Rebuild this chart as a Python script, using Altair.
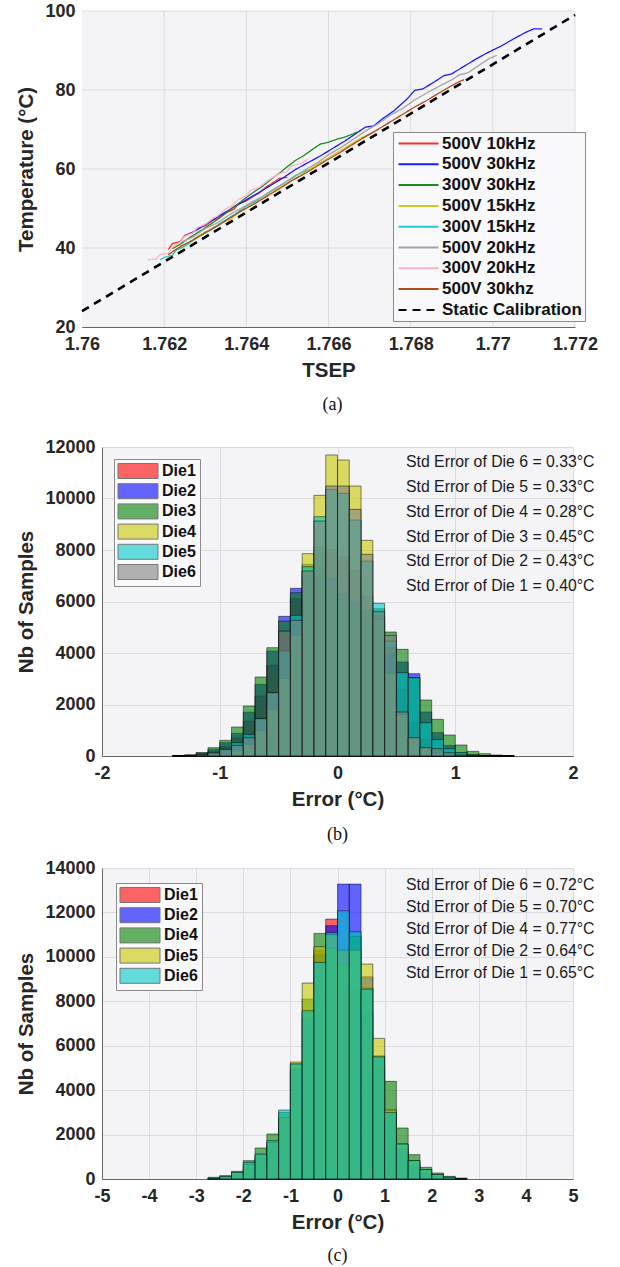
import altair as alt
import pandas as pd

FONT = "Liberation Sans"
SERIF = "Liberation Serif"
INK = "#262626"
BG = "#f4f4f7"
GRID = "#dcdce0"

# ---------------- panel (a): TSEP vs temperature ----------------
a_series = ["500V 10kHz", "500V 30kHz", "300V 30kHz", "500V 15kHz",
            "300V 15kHz", "500V 20kHz", "300V 20kHz", "500V 30khz",
            "Static Calibration"]
a_colors = ["#ff2a2a", "#1a1aff", "#1a8c1a", "#cccc22", "#22cccc",
            "#a3a3a3", "#ffb3c9", "#b04a1c", "#000000"]
a_dash = [[1, 0]] * 8 + [[8, 6]]
tsep_ticks = [1.760, 1.762, 1.764, 1.766, 1.768, 1.770, 1.772]
temp_ticks = [20, 40, 60, 80, 100]

red_tsep = [1.7621, 1.7622, 1.7624, 1.7625, 1.7627, 1.7628, 1.7630, 1.7632, 1.7633, 1.7635,
            1.7637, 1.7638, 1.7640, 1.7642, 1.7643, 1.7645, 1.7646, 1.7648, 1.7650]
red_temp = [39.6, 41.1, 41.7, 43.2, 43.9, 45.0, 45.6, 47.1, 47.5, 48.9,
            49.8, 51.1, 51.9, 53.3, 53.8, 55.6, 56.2, 57.6, 57.9]
blue_tsep = [1.7625, 1.7628, 1.7631, 1.7634, 1.7637, 1.7640, 1.7643, 1.7646, 1.7649, 1.7652,
             1.7655, 1.7658, 1.7661, 1.7664, 1.7667, 1.7669, 1.7671, 1.7673, 1.7676, 1.7679,
             1.7681, 1.7683, 1.7686, 1.7688, 1.7690, 1.7693, 1.7696, 1.7699, 1.7702, 1.7705,
             1.7708, 1.7710, 1.7712]
blue_temp = [43.0, 44.6, 46.6, 48.5, 50.4, 52.2, 54.0, 55.9, 57.8, 59.9,
             61.6, 63.3, 65.2, 67.1, 69.2, 70.6, 70.9, 72.6, 74.8, 77.6,
             79.9, 80.3, 82.2, 83.6, 84.1, 86.0, 87.9, 89.6, 91.1, 92.9,
             94.6, 95.5, 95.5]
green_tsep = [1.7622, 1.7624, 1.7626, 1.7628, 1.7630, 1.7632, 1.7634, 1.7636, 1.7638, 1.7640,
              1.7642, 1.7644, 1.7646, 1.7648, 1.7650, 1.7652, 1.7654, 1.7656, 1.7658, 1.7660,
              1.7662, 1.7664, 1.7666, 1.7667]
green_temp = [39.8, 41.0, 42.5, 43.8, 45.1, 46.5, 48.0, 49.6, 51.2, 52.8,
              54.3, 55.7, 57.4, 58.9, 60.6, 62.2, 63.4, 64.9, 66.3, 66.8,
              67.5, 68.1, 68.9, 69.4]
yellow_tsep = [1.7622, 1.7625, 1.7628, 1.7631, 1.7634, 1.7636, 1.7638, 1.7641, 1.7644, 1.7647,
               1.7650, 1.7653, 1.7656, 1.7659, 1.7662, 1.7665, 1.7668, 1.7670]
yellow_temp = [39.2, 40.6, 42.9, 44.6, 46.4, 47.1, 48.9, 50.8, 52.5, 54.6,
               56.4, 58.3, 60.4, 62.2, 64.1, 66.0, 67.9, 68.9]
cyan_tsep = [1.7619, 1.7620, 1.7622, 1.7623, 1.7625, 1.7628, 1.7631, 1.7634, 1.7637, 1.7640,
             1.7643, 1.7646, 1.7649, 1.7652, 1.7655]
cyan_temp = [37.0, 37.6, 38.2, 39.5, 40.4, 42.6, 44.3, 46.5, 48.4, 50.6,
             52.3, 54.5, 56.3, 58.4, 59.8]
gray_tsep = [1.7624, 1.7627, 1.7630, 1.7633, 1.7636, 1.7639, 1.7642, 1.7645, 1.7648, 1.7651,
             1.7654, 1.7657, 1.7660, 1.7663, 1.7666, 1.7669, 1.7672, 1.7675, 1.7678, 1.7681,
             1.7684, 1.7687, 1.7690, 1.7692, 1.7694, 1.7697, 1.7699, 1.7701]
gray_temp = [41.4, 42.8, 44.9, 46.4, 48.5, 50.2, 52.0, 53.6, 55.7, 57.5,
             59.6, 61.4, 63.6, 65.4, 67.5, 69.6, 71.4, 73.6, 75.3, 77.5,
             79.3, 81.0, 82.6, 83.9, 84.4, 86.5, 87.9, 88.8]
pink_tsep = [1.7616, 1.7618, 1.7619, 1.7621, 1.7622, 1.7624, 1.7625, 1.7627, 1.7628, 1.7630,
             1.7632, 1.7633, 1.7635, 1.7637, 1.7638, 1.7640, 1.7641, 1.7643, 1.7645, 1.7646,
             1.7648, 1.7650, 1.7651, 1.7653, 1.7655]
pink_temp = [37.0, 37.2, 38.3, 38.6, 40.2, 41.6, 43.0, 43.8, 45.1, 46.0,
             47.6, 48.1, 49.9, 51.0, 52.3, 53.2, 54.6, 55.3, 56.9, 57.6,
             58.8, 59.4, 60.8, 61.3, 62.4]
brown_tsep = [1.7621, 1.7624, 1.7627, 1.7630, 1.7633, 1.7636, 1.7639, 1.7642, 1.7645, 1.7648,
              1.7651, 1.7654, 1.7657, 1.7660, 1.7663, 1.7666, 1.7669, 1.7672, 1.7675, 1.7678,
              1.7681, 1.7684, 1.7687, 1.7690, 1.7692, 1.7693]
brown_temp = [38.3, 40.4, 42.0, 43.9, 45.6, 47.6, 49.5, 51.2, 53.1, 55.0,
              57.0, 58.7, 60.6, 62.5, 64.3, 66.3, 68.2, 70.0, 71.9, 73.8,
              75.7, 77.4, 79.3, 81.1, 82.2, 82.6]
cal_tsep = [1.760, 1.772]
cal_temp = [24.0, 99.0]

a_x = [red_tsep, blue_tsep, green_tsep, yellow_tsep, cyan_tsep, gray_tsep, pink_tsep, brown_tsep, cal_tsep]
a_y = [red_temp, blue_temp, green_temp, yellow_temp, cyan_temp, gray_temp, pink_temp, brown_temp, cal_temp]

# ---------------- panel (b): error histograms, 6 dies ----------------
b_dies = ["Die1", "Die2", "Die3", "Die4", "Die5", "Die6"]
b_colors = ["#ff0000", "#0000ff", "#008000", "#c8c800", "#00c8c8", "#808080"]
b_bin_left = [-1.4, -1.3, -1.2, -1.1, -1.0, -0.9, -0.8, -0.7, -0.6, -0.5, -0.4, -0.3, -0.2, -0.1,
              0.0, 0.1, 0.2, 0.3, 0.4, 0.5, 0.6, 0.7, 0.8, 0.9, 1.0, 1.1, 1.2, 1.3, 1.4]
b_bin_width = 0.1
b_die1 = [10, 30, 90, 180, 360, 700, 1350, 2330, 3520, 4850, 6110, 7180, 7310, 8026,
          7728, 7210, 6213, 5463, 4207, 2589, 1294, 650, 290, 130, 40, 20, 10, 0, 0]
b_die2 = [10, 40, 120, 260, 520, 880, 1700, 2780, 4080, 5424, 6511, 6930, 6920, 6925,
          6317, 6019, 5630, 5240, 3950, 3650, 3197, 1710, 910, 410, 130, 60, 20, 0, 0]
b_die3 = [20, 40, 130, 324, 608, 1126, 1942, 3068, 4207, 5240, 6340, 7440, 8120, 6472,
          6084, 5864, 5631, 5720, 4815, 4142, 3042, 2175, 1424, 816, 427, 181, 90, 40, 10]
b_die4 = [0, 0, 10, 30, 80, 200, 450, 1000, 1800, 3000, 4700, 7858, 10123, 11690,
          11495, 10485, 8375, 5300, 3200, 1600, 700, 300, 110, 40, 10, 0, 0, 0, 0]
b_die5 = [0, 10, 30, 100, 250, 520, 840, 1460, 2460, 4078, 5463, 7353, 9294, 10356,
          10200, 9165, 7573, 5929, 4466, 3236, 3042, 1294, 640, 285, 130, 40, 10, 0, 0]
b_die6 = [0, 10, 40, 130, 260, 410, 712, 1450, 2459, 4850, 5269, 7184, 9126, 10485,
          10485, 9579, 7832, 5605, 4686, 1709, 712, 324, 285, 129, 40, 10, 0, 0, 0]
b_counts = [b_die1, b_die2, b_die3, b_die4, b_die5, b_die6]
b_std = ["Std Error of Die 6 = 0.33°C", "Std Error of Die 5 = 0.33°C",
         "Std Error of Die 4 = 0.28°C", "Std Error of Die 3 = 0.45°C",
         "Std Error of Die 2 = 0.43°C", "Std Error of Die 1 = 0.40°C"]
b_xticks = [-2, -1, 0, 1, 2]
b_yticks = [0, 2000, 4000, 6000, 8000, 10000, 12000]

# ---------------- panel (c): error histograms, 5 dies ----------------
c_dies = ["Die1", "Die2", "Die4", "Die5", "Die6"]
c_colors = ["#ff0000", "#0000ff", "#008000", "#c8c800", "#00c8c8"]
c_bin_left = [-2.75, -2.5, -2.25, -2.0, -1.75, -1.5, -1.25, -1.0, -0.75, -0.5, -0.25,
              0.0, 0.25, 0.5, 0.75, 1.0, 1.25, 1.5, 1.75, 2.0, 2.25, 2.5]
c_bin_width = 0.25
c_die1 = [20, 60, 200, 550, 1000, 1600, 2700, 5000, 7500, 10300, 11700,
          10300, 8500, 7500, 5000, 3000, 1400, 700, 300, 120, 40, 10]
c_die2 = [10, 40, 150, 450, 900, 1500, 2600, 4900, 7200, 10100, 11400,
          13275, 13275, 9100, 5500, 2900, 1200, 550, 250, 100, 30, 10]
c_die4 = [75, 150, 345, 825, 1395, 2025, 3000, 5200, 8100, 11055, 10380,
          9700, 10920, 8600, 5550, 4395, 2295, 1095, 525, 270, 120, 45]
c_die5 = [30, 100, 285, 645, 1080, 1650, 2750, 5265, 8820, 10455, 11000,
          10300, 10300, 9675, 6330, 3105, 1575, 825, 420, 200, 80, 20]
c_die6 = [40, 120, 300, 750, 1125, 1725, 3105, 5175, 7575, 9750, 11100,
          12075, 11130, 8550, 5500, 3000, 1575, 825, 420, 200, 80, 20]
c_counts = [c_die1, c_die2, c_die4, c_die5, c_die6]
c_std = ["Std Error of Die 6 = 0.72°C", "Std Error of Die 5 = 0.70°C",
         "Std Error of Die 4 = 0.77°C", "Std Error of Die 2 = 0.64°C",
         "Std Error of Die 1 = 0.65°C"]
c_xticks = [-5, -4, -3, -2, -1, 0, 1, 2, 3, 4, 5]
c_yticks = [0, 2000, 4000, 6000, 8000, 10000, 12000, 14000]

# ---------------- tables ----------------
rows = []
for name, xs, ys in zip(a_series, a_x, a_y):
    for i, (xv, yv) in enumerate(zip(xs, ys)):
        rows.append({"series": name, "tsep": xv, "temp": yv, "idx": i})
df_a = pd.DataFrame(rows)


def hist_table(dies, lefts, counts):
    out = []
    for d, cs in zip(dies, counts):
        for l, c in zip(lefts, cs):
            out.append({"die": d, "start": l, "count": c})
    return pd.DataFrame(out)


df_b = hist_table(b_dies, b_bin_left, b_counts)
df_c = hist_table(c_dies, c_bin_left, c_counts)


def caption(text, off, dx=0):
    return alt.TitleParams(text, orient="bottom", font=SERIF, fontSize=18,
                           fontWeight="normal", color="#111111", offset=off,
                           anchor="middle", dx=dx)


# ---------------- chart (a) ----------------
# the plot area of (a) starts 20 px left of the plots below it
A_SHIFT = 20
leg_a = alt.Legend(title=None, orient="none", legendX=291, legendY=121,
                   direction="vertical", symbolType="M-1.2,0L6.8,0",
                   symbolSize=100, symbolStrokeWidth=2,
                   labelFont=FONT, labelFontSize=17, labelFontWeight="bold",
                   labelColor="#111111", labelOffset=29, rowPadding=2.8,
                   padding=3, strokeColor="#8a8a8a", fillColor="#f9f9fb",
                   labelLimit=300)

xa = alt.X("tsep:Q", scale=alt.Scale(domain=[1.760, 1.772], range=[-A_SHIFT, 473],
                                     nice=False, zero=False),
           axis=alt.Axis(values=tsep_ticks, format=".3~f", title="TSEP", grid=False))
ya = alt.Y("temp:Q", scale=alt.Scale(domain=[20, 100], nice=False, zero=False),
           axis=alt.Axis(values=temp_ticks, title="Temperature (°C)", grid=False,
                         offset=A_SHIFT))

bg_a = alt.Chart(pd.DataFrame({"k": [0]})).mark_rect(color=BG).encode(
    x=alt.datum(tsep_ticks[0]), x2=alt.datum(tsep_ticks[-1]),
    y=alt.datum(temp_ticks[0]), y2=alt.datum(temp_ticks[-1]))
gx_a = alt.Chart(pd.DataFrame({"tsep": tsep_ticks[1:]})).mark_rule(
    color=GRID, strokeWidth=1).encode(x=xa, y=alt.datum(temp_ticks[0]), y2=alt.datum(temp_ticks[-1]))
gy_a = alt.Chart(pd.DataFrame({"temp": temp_ticks[1:]})).mark_rule(
    color=GRID, strokeWidth=1).encode(y=ya, x=alt.datum(tsep_ticks[0]), x2=alt.datum(tsep_ticks[-1]))

lines_a = alt.Chart(df_a).mark_line(clip=False).encode(
    x=xa, y=ya,
    color=alt.Color("series:N", scale=alt.Scale(domain=a_series, range=a_colors), legend=leg_a),
    strokeDash=alt.StrokeDash("series:N", scale=alt.Scale(domain=a_series, range=a_dash), legend=leg_a),
    strokeWidth=alt.when(alt.datum.series == "Static Calibration").then(alt.value(2.6)).otherwise(alt.value(1.3)),
    order=alt.Order("idx:Q"),
)

chart_a = alt.layer(bg_a, gx_a, gy_a, lines_a).properties(
    width=473, height=316, title=caption("(a)", 15, -6),
    view=alt.ViewBackground(fillOpacity=0, strokeOpacity=0))


# ---------------- histogram panels ----------------
def hist_panel(df, dies, colors, width_bin, xdom, xticks, ydom, yticks, std_lines,
               legx, legy, text_y, line_h, cap, cap_off, h):
    leg = alt.Legend(title=None, orient="none", legendX=legx, legendY=legy,
                     direction="vertical",
                     symbolType="M-1.067,-1L4.267,-1L4.267,1L-1.067,1Z",
                     symbolSize=225, symbolStrokeWidth=1, symbolStrokeColor="#222222",
                     symbolOpacity=0.6, labelFont=FONT, labelFontSize=16,
                     labelFontWeight="bold", labelColor="#111111", labelOffset=28,
                     rowPadding=0.2, padding=4, strokeColor="#8a8a8a",
                     fillColor="#f9f9fb")
    bars = alt.Chart(df).transform_calculate(
        end=f"datum.start + {width_bin}"
    ).mark_rect(fillOpacity=0.6, stroke="#000000", strokeOpacity=0.6, strokeWidth=0.8).encode(
        x=alt.X("start:Q", scale=alt.Scale(domain=xdom, nice=False, zero=False),
                axis=alt.Axis(values=xticks, labelExpr="'' + datum.value", title="Error (°C)",
                              gridColor=GRID)),
        x2="end:Q",
        y=alt.Y("count:Q", scale=alt.Scale(domain=ydom, nice=False),
                axis=alt.Axis(values=yticks, format="d", title="Nb of Samples", gridColor=GRID)),
        y2=alt.Y2Datum(0),
        color=alt.Color("die:N", scale=alt.Scale(domain=dies, range=colors), legend=leg),
    )
    txt = alt.Chart(pd.DataFrame({"k": [0]})).mark_text(
        text=std_lines, align="left", baseline="top", lineHeight=line_h,
        font=FONT, fontSize=15.8, color="#1a1a1a"
    ).encode(x=alt.value(304), y=alt.value(text_y))
    return alt.layer(bars, txt).properties(
        width=471, height=h, title=caption(cap, cap_off),
        view=alt.ViewBackground(fill=BG, strokeOpacity=0))


chart_b = hist_panel(df_b, b_dies, b_colors, b_bin_width, [-2, 2], b_xticks, [0, 12000],
                     b_yticks, b_std, 12, 12, 8.3, 24.8, "(b)", 16, 309)
chart_c = hist_panel(df_c, c_dies, c_colors, c_bin_width, [-5, 5], c_xticks, [0, 14000],
                     c_yticks, c_std, 14, 15, 9.5, 22.0, "(c)", 13.5, 311)

IND = dict(color="independent", strokeDash="independent")

top = alt.vconcat(chart_a, chart_b, spacing=23).resolve_scale(**IND).resolve_legend(**IND)

chart = alt.vconcat(top, chart_c, spacing=14).resolve_scale(**IND).resolve_legend(**IND).properties(
    padding={"left": 16, "top": 2, "right": 0, "bottom": 0}
).configure_axis(
    labelFont=FONT, labelFontSize=18, labelFontWeight="bold", labelColor=INK,
    titleFont=FONT, titleFontSize=20.5, titleFontWeight="bold", titleColor=INK,
    gridColor=GRID, gridWidth=1, domainColor="#666666", domainWidth=1,
    ticks=False, labelFlush=False,
).configure_axisX(labelPadding=8.7, titlePadding=7).configure_axisY(
    labelPadding=7, titlePadding=8.4)

chart.save("out.html", embed_options={"renderer": "svg", "actions": False})
